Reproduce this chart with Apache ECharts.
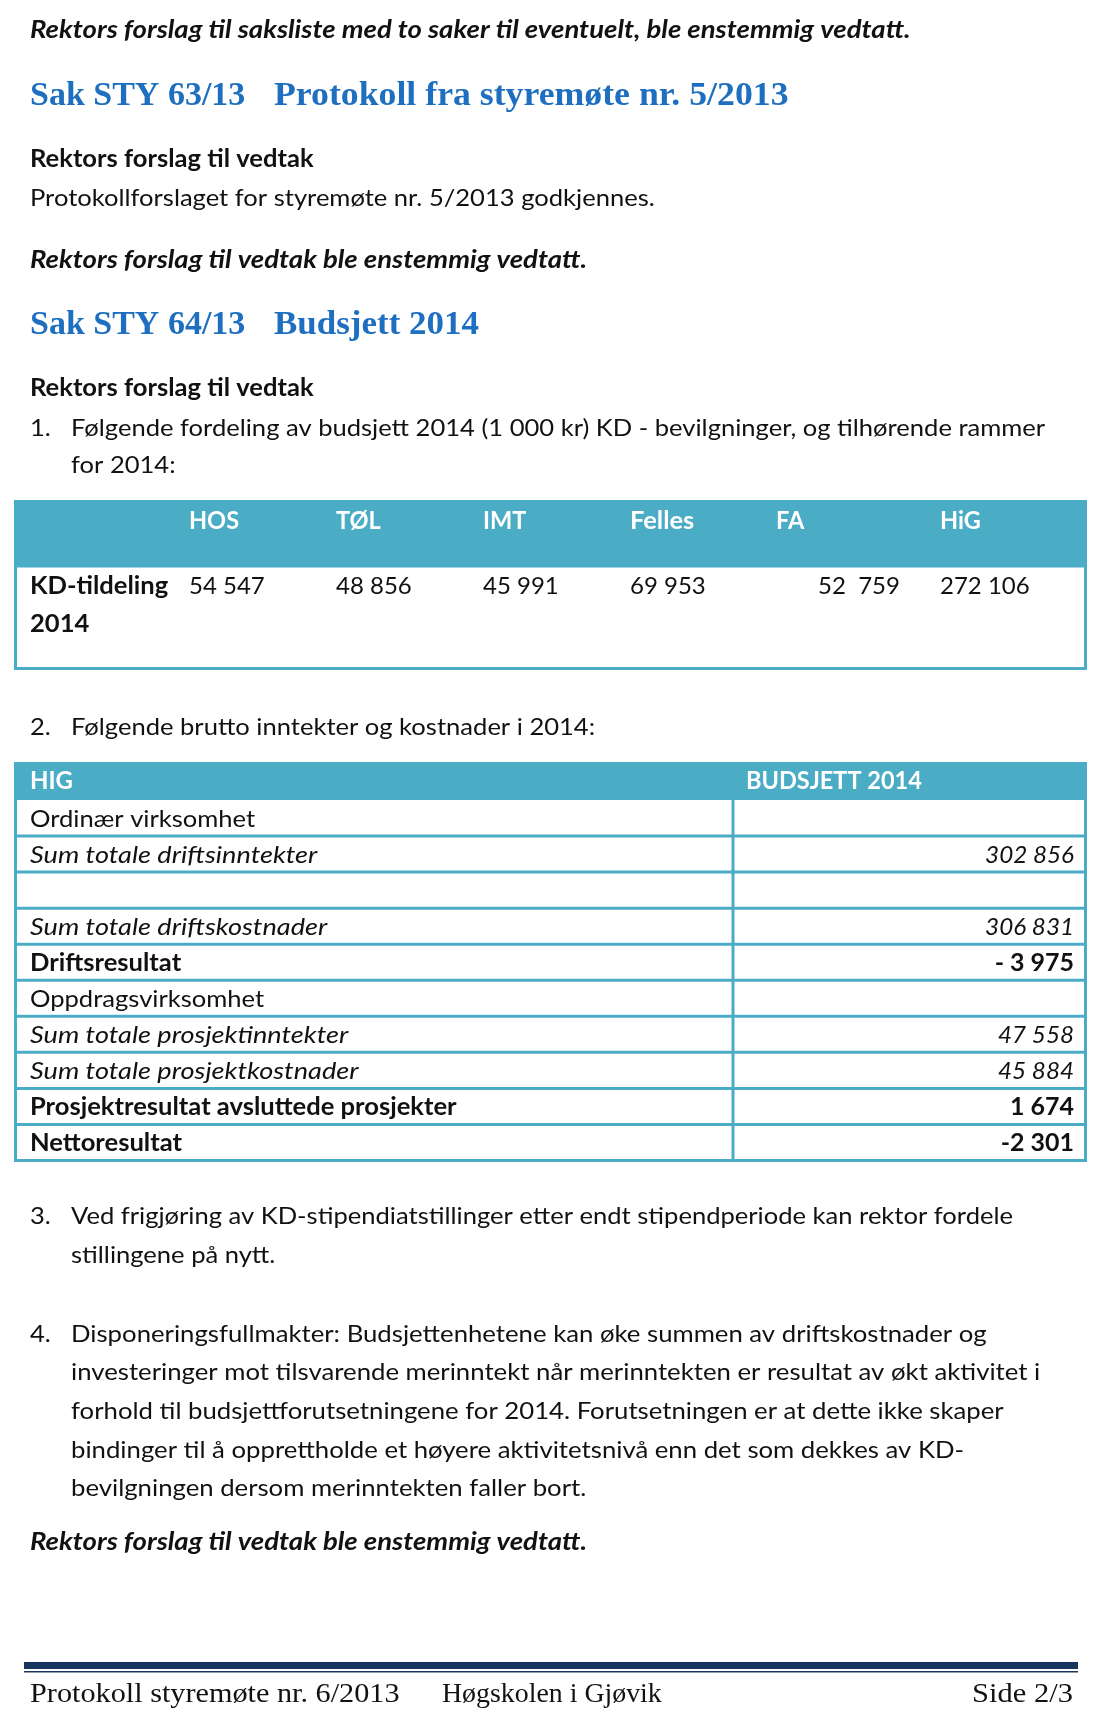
<!DOCTYPE html>
<html><head><meta charset="utf-8">
<script src="https://cdn.jsdelivr.net/npm/echarts@6/dist/echarts.min.js"></script>
<style>html,body{margin:0;padding:0;background:#fff}#c{width:1100px;height:1719px}</style>
</head><body><div id="c"></div>
<script>
// ---- content / data ----
const introLine = 'Rektors forslag til saksliste med to saker til eventuelt, ble enstemmig vedtatt.';
const case63 = ['Sak STY 63/13', 'Protokoll fra styremøte nr. 5/2013'];
const case64 = ['Sak STY 64/13', 'Budsjett 2014'];
const proposalHead = 'Rektors forslag til vedtak';
const proposal63 = 'Protokollforslaget for styremøte nr. 5/2013 godkjennes.';
const adopted = 'Rektors forslag til vedtak ble enstemmig vedtatt.';
const item1 = ['Følgende fordeling av budsjett 2014 (1 000 kr) KD - bevilgninger, og tilhørende rammer', 'for 2014:'];
const kdUnits = ['HOS', 'TØL', 'IMT', 'Felles', 'FA', 'HiG'];
const kdValues = ['54 547', '48 856', '45 991', '69 953', '52  759', '272 106'];
const kdRowLabel = ['KD-tildeling', '2014'];
const item2 = 'Følgende brutto inntekter og kostnader i 2014:';
const budgetHeader = ['HIG', 'BUDSJETT 2014'];
const budgetRows = ['Ordinær virksomhet', 'Sum totale driftsinntekter', '', 'Sum totale driftskostnader', 'Driftsresultat', 'Oppdragsvirksomhet', 'Sum totale prosjektinntekter', 'Sum totale prosjektkostnader', 'Prosjektresultat avsluttede prosjekter', 'Nettoresultat'];
const budgetValues = ['', '302 856', '', '306 831', '- 3 975', '', '47 558', '45 884', '1 674', '-2 301'];
const budgetKinds = ['normal', 'italic', 'normal', 'italic', 'bold', 'normal', 'italic', 'italic', 'bold', 'bold'];
const item3 = ['Ved frigjøring av KD-stipendiatstillinger etter endt stipendperiode kan rektor fordele', 'stillingene på nytt.'];
const item4 = ['Disponeringsfullmakter: Budsjettenhetene kan øke summen av driftskostnader og',
  'investeringer mot tilsvarende merinntekt når merinntekten er resultat av økt aktivitet i',
  'forhold til budsjettforutsetningene for 2014. Forutsetningen er at dette ikke skaper',
  'bindinger til å opprettholde et høyere aktivitetsnivå enn det som dekkes av KD-',
  'bevilgningen dersom merinntekten faller bort.'];
const footer = ['Protokoll styremøte nr. 6/2013', 'Høgskolen i Gjøvik', 'Side 2/3'];

// ---- style ----
const TEAL = '#4BACC6', BLUE = '#1E6FBF', NAVY = '#17365D', INK = '#111';
const SANS = 'Lato', SERIF = 'Liberation Serif';
const FS = 24;
const SXBY = { normal: 1.065, bold: 1.065, italic: 1.13, bolditalic: 1.146 };
const g = [];
function txt(x, y, text, o) {
  o = o || {};
  const w = o.weight || 'normal', s = o.style || 'normal';
  const key = (w === 'bold' ? 'bold' : '') + (s === 'italic' ? 'italic' : '') || 'normal';
  g.push({
    type: 'text', x: x, y: y, scaleX: o.sx == null ? SXBY[key] : o.sx,
    style: {
      text: text, fill: o.fill || INK,
      fontFamily: o.family || SANS, fontSize: o.size || FS,
      fontWeight: w, fontStyle: s,
      textAlign: o.align || 'left', textVerticalAlign: 'middle'
    }
  });
}
function rect(x, y, w, h, fill) { g.push({ type: 'rect', shape: { x: x, y: y, width: w, height: h }, style: { fill: fill } }); }
function line(x1, y1, x2, y2, c, lw) { g.push({ type: 'line', shape: { x1: x1, y1: y1, x2: x2, y2: y2 }, style: { stroke: c, lineWidth: lw } }); }

const BI = { weight: 'bold', style: 'italic' }, B = { weight: 'bold' };
const H = (sx) => ({ family: SERIF, weight: 'bold', size: 33, fill: BLUE, sx: sx });
txt(30, 30, introLine, BI);
txt(30, 96.5, case63[0], H(1.03)); txt(274, 96.5, case63[1], H(1.083));
txt(30, 159, proposalHead, B);
txt(30, 198, proposal63);
txt(30, 260, adopted, BI);
txt(30, 325.5, case64[0], H(1.03)); txt(274, 325.5, case64[1], H(1.06));
txt(30, 388, proposalHead, B);
txt(30, 428, '1.'); txt(71, 428, item1[0]); txt(71, 465, item1[1]);

// table 1
rect(14, 500, 1073, 66, TEAL);
g.push({ type: 'rect', shape: { x: 15.5, y: 566, width: 1070, height: 102.5 }, style: { fill: 'none', stroke: TEAL, lineWidth: 3 } });
const kdHeadX = [189, 336, 483, 630, 776, 940];
const kdValX = [189, 336, 483, 630, 818, 940];
kdUnits.forEach((u, i) => txt(kdHeadX[i], 521, u, { weight: 'bold', fill: '#fff', sx: i === 3 ? 1.06 : 0.98 }));
kdValues.forEach((v, i) => txt(kdValX[i], 586, v, { sx: 1.0 }));
txt(30, 586, kdRowLabel[0], B); txt(30, 624, kdRowLabel[1], B);

txt(30, 727, '2.'); txt(71, 727, item2);

// table 2
const T2top = 800, RH = 36.05;
rect(14, 762, 1073, 38, TEAL);
txt(30, 781, budgetHeader[0], { weight: 'bold', fill: '#fff', sx: 1.0 });
txt(746, 781, budgetHeader[1], { weight: 'bold', fill: '#fff', sx: 0.98 });
budgetRows.forEach((r, i) => {
  const cy = T2top + RH * i + RH / 2 + 1;
  const k = budgetKinds[i];
  const o = k === 'bold' ? { weight: 'bold' } : k === 'italic' ? { style: 'italic' } : {};
  if (r) txt(30, cy, r, o);
  if (budgetValues[i]) txt(1074, cy, budgetValues[i], Object.assign({ align: 'right', sx: k === 'bold' ? 1.04 : 1.01 }, o));
  line(14, T2top + RH * (i + 1), 1087, T2top + RH * (i + 1), TEAL, 3);
});
line(15.5, T2top, 15.5, T2top + RH * budgetRows.length + 1.5, TEAL, 3);
line(1085.5, T2top, 1085.5, T2top + RH * budgetRows.length + 1.5, TEAL, 3);
line(733, T2top, 733, T2top + RH * budgetRows.length, TEAL, 3);

txt(30, 1216, '3.'); txt(71, 1216, item3[0]); txt(71, 1255, item3[1]);
txt(30, 1334, '4.');
item4.forEach((l, i) => txt(71, 1334 + 38.6 * i, l, { sx: 1.072 }));
txt(30, 1542, adopted, BI);

// footer
rect(24, 1662, 1054, 7, NAVY);
rect(24, 1671, 1054, 1.5, NAVY);
const F = (sx) => ({ family: SERIF, size: 28, sx: sx });
txt(30, 1695, footer[0], F(1.08));
txt(442, 1695, footer[1], F(0.995));
txt(1073, 1695, footer[2], Object.assign({ align: 'right' }, F(1.09)));

const chart = echarts.init(document.getElementById('c'), null, { renderer: 'canvas' });
chart.setOption({ backgroundColor: '#fff', animation: false, graphic: g });
</script></body></html>
